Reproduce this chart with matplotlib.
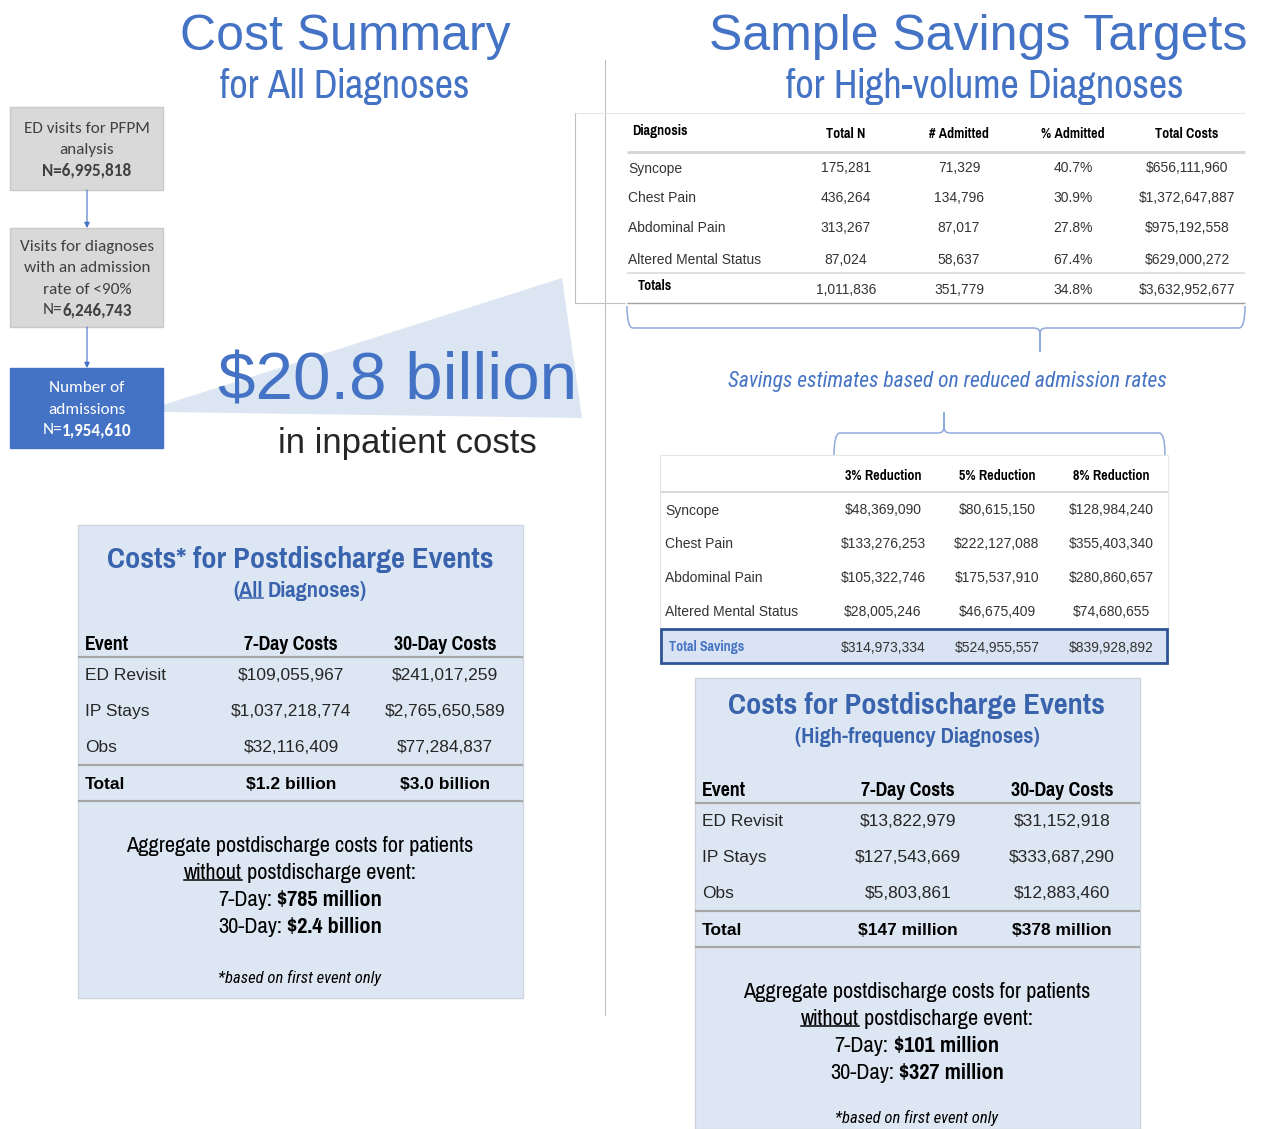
import matplotlib
matplotlib.use("Agg")
import matplotlib.pyplot as plt
from matplotlib.patches import Rectangle, Polygon, PathPatch
from matplotlib.path import Path

SANS = 'Liberation Sans'
NARROW = ['Pragati Narrow', 'Liberation Sans']
NARROW_IT = ['Roboto Condensed', 'Liberation Sans']
FLOW = ['Carlito', 'Liberation Sans']

BLUE = '#4472c4'
DBLUE = '#3a63ae'
TXT = '#262626'

# ---- data ----
flow_lines = [["ED visits for PFPM", "analysis"],
              ["Visits for diagnoses", "with an admission", "rate of <90%"],
              ["Number of", "admissions"]]
flow_n = ["6,995,818", "6,246,743", "1,954,610"]
big_total = "$20.8 billion"

diag_cols = ["Diagnosis", "Total N", "# Admitted", "% Admitted", "Total Costs"]
diagnoses = ["Syncope", "Chest Pain", "Abdominal Pain", "Altered Mental Status"]
total_n = ["175,281", "436,264", "313,267", "87,024"]
n_admitted = ["71,329", "134,796", "87,017", "58,637"]
pct_admitted = ["40.7%", "30.9%", "27.8%", "67.4%"]
total_costs = ["$656,111,960", "$1,372,647,887", "$975,192,558", "$629,000,272"]
totals_row = ["1,011,836", "351,779", "34.8%", "$3,632,952,677"]

reductions = ["3% Reduction", "5% Reduction", "8% Reduction"]
savings_3 = ["$48,369,090", "$133,276,253", "$105,322,746", "$28,005,246"]
savings_5 = ["$80,615,150", "$222,127,088", "$175,537,910", "$46,675,409"]
savings_8 = ["$128,984,240", "$355,403,340", "$280,860,657", "$74,680,655"]
total_savings = ["$314,973,334", "$524,955,557", "$839,928,892"]

events = ["ED Revisit", "IP Stays", "Obs"]
all_7day = ["$109,055,967", "$1,037,218,774", "$32,116,409"]
all_30day = ["$241,017,259", "$2,765,650,589", "$77,284,837"]
all_total = ["$1.2 billion", "$3.0 billion"]
all_without = ["$785 million", "$2.4 billion"]
hf_7day = ["$13,822,979", "$127,543,669", "$5,803,861"]
hf_30day = ["$31,152,918", "$333,687,290", "$12,883,460"]
hf_total = ["$147 million", "$378 million"]
hf_without = ["$101 million", "$327 million"]

fig = plt.figure(figsize=(12.61, 11.29), dpi=100)
ax = fig.add_axes([0, 0, 1, 1])
ax.set_xlim(0, 1261)
ax.set_ylim(1129, 0)
ax.axis('off')
R = fig.canvas.get_renderer()


def txt(x, y, s, size, family=SANS, color=TXT, ha='center', **kw):
    return ax.text(x, y, s, fontsize=size, family=family, color=color, ha=ha,
                   va='center_baseline', **kw)


def rich(x, y, parts, size, family=SANS, color=TXT, ha='center'):
    # parts: (text, weight, underline, space_before)
    sp = 0.23 * size * 100 / 72
    items = []
    total = 0
    for s, w, ul, gap in parts:
        t = ax.text(0, y, s, fontsize=size, family=family, color=color, ha='left',
                    va='center_baseline', fontweight=w)
        wd = t.get_window_extent(R).width
        g = sp if gap else 0
        items.append((t, wd, ul, g))
        total += wd + g
    cur = x - total / 2 if ha == 'center' else x
    for t, wd, ul, g in items:
        cur += g
        t.set_x(cur)
        if ul:
            ax.plot([cur, cur + wd], [y + size * 0.5, y + size * 0.5], color=color, lw=1.1)
        cur += wd


def hline(x0, x1, y, color='#a6a6a6', lw=1.5):
    ax.plot([x0, x1], [y, y], color=color, lw=lw, solid_capstyle='butt')


def brace(x0, x1, xm, yend, ybar, ytip, r=6, color='#8faadc'):
    s = 1 if ytip > ybar else -1
    verts = [(x0, yend), (x0, ybar), (x0 + r, ybar),
             (xm - r, ybar), (xm, ybar), (xm, ybar + s * r),
             (xm, ytip),
             (xm, ybar + s * r), (xm, ybar), (xm + r, ybar),
             (x1 - r, ybar), (x1, ybar), (x1, yend)]
    codes = [Path.MOVETO, Path.CURVE3, Path.CURVE3,
             Path.LINETO, Path.CURVE3, Path.CURVE3,
             Path.LINETO,
             Path.LINETO, Path.CURVE3, Path.CURVE3,
             Path.LINETO, Path.CURVE3, Path.CURVE3]
    ax.add_patch(PathPatch(Path(verts, codes), fill=False, ec=color, lw=1.1))


# ---- titles ----
txt(345, 32, "Cost Summary", 36, color=BLUE)
txt(345, 83, "for All Diagnoses", 31.5, family=NARROW, color=BLUE)
txt(978, 32, "Sample Savings Targets", 36, color=BLUE)
txt(985, 83, "for High-volume Diagnoses", 31.5, family=NARROW, color=BLUE)
ax.plot([605, 605], [60, 1015], color='#bfbfbf', lw=0.8)

# ---- flowchart ----
boxes = [(107, 190), (228, 327), (368, 448)]
for i, (y0, y1) in enumerate(boxes):
    last = i == len(boxes) - 1
    fc = BLUE if last else '#d9d9d9'
    ec = BLUE if last else '#c9c9c9'
    tc = 'white' if last else '#404040'
    ax.add_patch(Rectangle((10, y0), 153, y1 - y0, fc=fc, ec=ec, lw=1))
    lines = flow_lines[i]
    n = len(lines) + 1
    ys = [(y0 + y1) / 2 + (k - (n - 1) / 2) * 21 for k in range(n)]
    for k, s in enumerate(lines):
        txt(87, ys[k], s, 12.3, family=FLOW, color=tc)
    if i == 0:
        txt(87, ys[-1], "N=" + flow_n[i], 12.3, family=FLOW, color=tc, fontweight='bold')
    else:
        rich(87, ys[-1], [("N=", 'normal', False, False), (flow_n[i], 'bold', False, False)],
             12.3, family=FLOW, color=tc)
    if i > 0:
        ax.annotate("", xy=(87, y0), xytext=(87, boxes[i - 1][1]),
                    arrowprops=dict(arrowstyle='-|>', color=BLUE, lw=0.8,
                                    mutation_scale=8, shrinkA=0, shrinkB=0))

# ---- wedge and big number ----
ax.add_patch(Polygon([(163, 405), (562, 278), (582, 418), (163, 412)],
                     closed=True, fc='#dce6f2', ec='none', zorder=0))
txt(398, 376, big_total, 48.5, color=BLUE)
txt(407, 440, "in inpatient costs", 25, color=TXT)

# ---- diagnosis table ----
ax.plot([575, 575], [113, 303], color='#c0c0c0', lw=0.8)
hline(575, 625, 303, color='#c0c0c0', lw=0.8)
hline(575, 1245, 113, color='#e6e6e6', lw=0.8)
col_x = [846, 959, 1073, 1187]
txt(632, 129, diag_cols[0], 11, family=NARROW, fontweight='bold', ha='left', color='black')
for cx, c in zip(col_x, diag_cols[1:]):
    txt(cx, 133, c, 11, family=NARROW, fontweight='bold', color='black')
hline(627, 1245, 152, color='#d4d4d4', lw=2)
row_y = [167, 197, 227, 258]
for k, d in enumerate(diagnoses):
    txt(628, row_y[k], d, 10, ha='left', color='#333333')
    for cx, v in zip(col_x, [total_n[k], n_admitted[k], pct_admitted[k], total_costs[k]]):
        txt(cx, row_y[k], v, 10, color='#333333')
hline(627, 1245, 273, color='#e0e0e0', lw=1.5)
txt(638, 284, "Totals", 11, family=NARROW, fontweight='bold', ha='left', color='black')
for cx, v in zip(col_x, totals_row):
    txt(cx, 289, v, 10, color='#333333')
hline(627, 1245, 303, color='#a0a0a0', lw=1)

brace(627, 1245, 1040, 306, 328, 352)
txt(947, 379, "Savings estimates based on reduced admission rates", 15.5,
    family=NARROW_IT, color=BLUE, style='italic')
brace(834, 1165, 944, 455, 433, 412)

# ---- savings table ----
ax.add_patch(Rectangle((660, 455), 508, 208, fc='white', ec='#e6e6e6', lw=0.8))
red_x = [883, 997, 1111]
for cx, c in zip(red_x, reductions):
    txt(cx, 474, c, 11, family=NARROW, fontweight='bold', color='black')
hline(660, 1168, 492, color='#d9d9d9', lw=1.5)
srow_y = [509, 543, 577, 611]
for k, d in enumerate(diagnoses):
    txt(665, srow_y[k], d, 10, ha='left', color='#333333')
    for cx, v in zip(red_x, [savings_3[k], savings_5[k], savings_8[k]]):
        txt(cx, srow_y[k], v, 10, color='#333333')
ax.add_patch(Rectangle((661, 629), 506, 34, fc='#dae3f3', ec='#2f5597', lw=2))
txt(669, 645, "Total Savings", 11, family=NARROW, fontweight='bold', ha='left', color=BLUE)
for cx, v in zip(red_x, total_savings):
    txt(cx, 646, v, 10, color='#333333')


# ---- postdischarge boxes ----
def post_box(x0, ytop, ybot, ty, title, sub_parts, c7, c30, tot, without, foot_dy):
    ax.add_patch(Rectangle((x0, ytop), 445, ybot - ytop, fc='#dde7f3', ec='#cfd5dd', lw=1, zorder=0))
    cx = x0 + 222
    txt(cx, ty, title, 23.8, family=NARROW, fontweight='bold', color=DBLUE)
    rich(cx, ty + 32, sub_parts, 17.5, family=NARROW, color=DBLUE)
    ex, x7, x30 = x0 + 7, x0 + 213, x0 + 367
    txt(ex, ty + 86, "Event", 15.5, family=NARROW, fontweight='bold', ha='left', color='black')
    txt(x7, ty + 86, "7-Day Costs", 15.5, family=NARROW, fontweight='bold', color='black')
    txt(x30, ty + 86, "30-Day Costs", 15.5, family=NARROW, fontweight='bold', color='black')
    hline(x0, x0 + 445, ty + 100, color='#a6a6a6', lw=1.6)
    for k, ev in enumerate(events):
        yy = ty + 117 + 36 * k
        txt(ex, yy, ev, 12.5, ha='left')
        txt(x7, yy, c7[k], 12.5)
        txt(x30, yy, c30[k], 12.5)
    hline(x0, x0 + 445, ty + 208, color='#a6a6a6', lw=1.6)
    txt(ex, ty + 226, "Total", 12.5, fontweight='bold', ha='left', color='black')
    txt(x7, ty + 226, tot[0], 12.5, fontweight='bold', color='black')
    txt(x30, ty + 226, tot[1], 12.5, fontweight='bold', color='black')
    hline(x0, x0 + 445, ty + 244, color='#a6a6a6', lw=1.6)
    txt(cx, ty + 287, "Aggregate postdischarge costs for patients", 17.5, family=NARROW, color='black')
    rich(cx, ty + 314, [("without", 'normal', True, False), ("postdischarge event:", 'normal', False, True)],
         17.5, family=NARROW, color='black')
    rich(cx, ty + 341, [("7-Day:", 'normal', False, False), (without[0], 'bold', False, True)],
         17.5, family=NARROW, color='black')
    rich(cx, ty + 368, [("30-Day:", 'normal', False, False), (without[1], 'bold', False, True)],
         17.5, family=NARROW, color='black')
    txt(cx, ty + foot_dy, "*based on first event only", 12, family=NARROW_IT, style='italic', color='black')


post_box(78, 525, 998, 557, "Costs* for Postdischarge Events",
         [("(", 'bold', False, False), ("All", 'bold', True, False), ("Diagnoses)", 'bold', False, True)],
         all_7day, all_30day, all_total, all_without, 419)
post_box(695, 678, 1129, 703, "Costs for Postdischarge Events",
         [("(High-frequency Diagnoses)", 'bold', False, False)],
         hf_7day, hf_30day, hf_total, hf_without, 413)

fig.savefig("out.png", dpi=100)
